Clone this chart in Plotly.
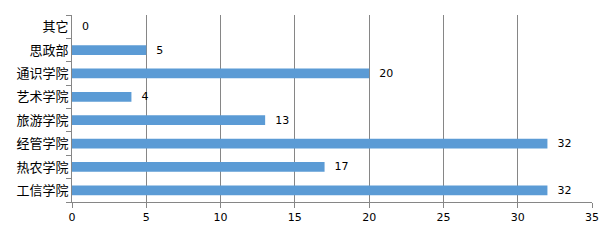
import plotly.graph_objects as go

categories = ["工信学院", "热农学院", "经管学院", "旅游学院", "艺术学院", "通识学院", "思政部", "其它"]
values = [32, 17, 32, 13, 4, 20, 5, 0]
x_ticks = [0, 5, 10, 15, 20, 25, 30, 35]

fig = go.Figure(go.Bar(
    y=categories, x=values, orientation="h",
    marker=dict(color="#5B9BD5", line=dict(width=0)),
    text=["  " + str(v) for v in values], textposition="outside", constraintext="none",
    textfont=dict(family="DejaVu Sans, Liberation Sans", size=11, color="#000000"),
    cliponaxis=False,
))
fig.update_layout(
    width=610, height=240,
    margin=dict(l=72, r=11, t=15, b=38),
    paper_bgcolor="white", plot_bgcolor="white",
    bargap=0.58, showlegend=False,
    uniformtext=dict(minsize=11, mode="show"),
    xaxis=dict(range=[0, 35], tickvals=x_ticks, showgrid=True, gridcolor="#868686", gridwidth=1,
               showline=True, linecolor="#868686", linewidth=1, ticks="outside", ticklen=5,
               tickcolor="#868686", zeroline=False,
               tickfont=dict(family="DejaVu Sans, Liberation Sans", size=11, color="#000000")),
    yaxis=dict(showgrid=False, showline=True, linecolor="#868686", linewidth=1, ticks="outside",
               ticklen=5, tickcolor="#868686", tickson="boundaries",
               tickfont=dict(family="Noto Sans CJK SC", size=13, color="#000000")),
)
fig.write_html("out.html")
